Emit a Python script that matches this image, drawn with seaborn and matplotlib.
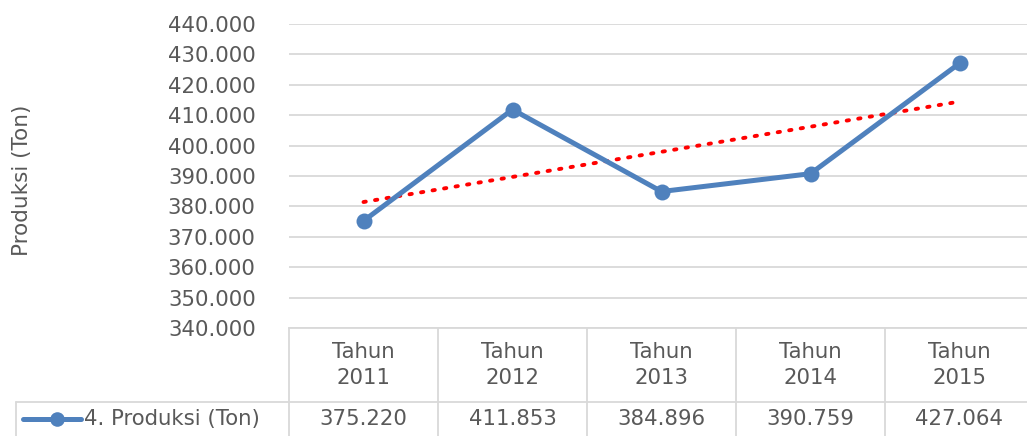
import matplotlib as mpl
import seaborn as sns
import pandas as pd
import numpy as np
from matplotlib.lines import Line2D
plt = mpl.pyplot

years = [2011, 2012, 2013, 2014, 2015]
year_labels = ['Tahun\n2011', 'Tahun\n2012', 'Tahun\n2013', 'Tahun\n2014', 'Tahun\n2015']
produksi = [375.220, 411.853, 384.896, 390.759, 427.064]
value_labels = ['375.220', '411.853', '384.896', '390.759', '427.064']
series_name = '4. Produksi (Ton)'
y_ticks = [340, 350, 360, 370, 380, 390, 400, 410, 420, 430, 440]

data = pd.DataFrame({'Tahun': years, 'Produksi': produksi})

sns.set_style('white')
mpl.rcParams['font.family'] = ['DejaVu Sans']
TXT = '#595959'
GRID = '#d9d9d9'
BLUE = '#4f81bd'
FS = 15.3

W, H = 1027, 436
fig = plt.figure(figsize=(W / 100, H / 100), dpi=100)
# plot area in pixels: x 289..1034, y 24..328
ax = fig.add_axes([289 / W, 1 - 328 / H, 745 / W, 304 / H])

sns.regplot(x='Tahun', y='Produksi', data=data, ax=ax, scatter=False, ci=None,
            truncate=True,
            line_kws=dict(color='#ff0000', lw=2.8, ls=(0, (0.6, 2.4)),
                          dash_capstyle='round', zorder=3))
sns.lineplot(x='Tahun', y='Produksi', data=data, ax=ax, color=BLUE, lw=3.6,
             marker='o', markersize=11.5, markeredgewidth=0, zorder=4)

ax.set_xlim(years[0] - 0.5, years[-1] + 0.5)
ax.set_ylim(340, 440)
ax.set_yticks(y_ticks)
ax.set_yticklabels([f'{v}.000' for v in y_ticks], color=TXT, fontsize=FS)
ax.tick_params(axis='y', length=0, pad=24)
ax.set_xticks([])
ax.set_xlabel('')
ax.set_ylabel('')
ax.grid(axis='y', color=GRID, lw=1.3)
for s in ['top', 'right', 'left']:
    ax.spines[s].set_visible(False)
ax.spines['bottom'].set_color(GRID)
ax.spines['bottom'].set_linewidth(1.3)

fig.text(22 / W, 1 - 180 / H, 'Produksi (Ton)', rotation=90, ha='center', va='center',
         color=TXT, fontsize=15.5)

# data table below the plot
tr = ax.get_xaxis_transform()
row1 = -(402 - 328) / 304
row_bot = -(440 - 328) / 304
for i, yr in enumerate(years):
    ax.text(yr, row1 / 2, year_labels[i], transform=tr, ha='center', va='center',
            color=TXT, fontsize=FS, linespacing=1.35)
    ax.text(yr, (row1 + row_bot) / 2 + 0.005, value_labels[i], transform=tr, ha='center',
            va='center', color=TXT, fontsize=FS)
for xb in [years[0] - 0.5] + [y + 0.5 for y in years]:
    ax.add_line(Line2D([xb, xb], [0, row_bot], transform=tr, color=GRID, lw=1.3,
                       clip_on=False))
# horizontal row separator and legend cell
fig.add_artist(Line2D([16 / W, 1], [1 - 402 / H] * 2, color=GRID, lw=1.3))
fig.add_artist(Line2D([16 / W, 16 / W], [1 - 402 / H, 0], color=GRID, lw=1.3))
fig.add_artist(Line2D([23 / W, 81 / W], [1 - 419 / H] * 2, color=BLUE, lw=3.6))
fig.add_artist(Line2D([57 / W], [1 - 419 / H], color=BLUE, marker='o', markersize=10.5,
                      markeredgewidth=0))
fig.text(84 / W, 1 - 419 / H, series_name, ha='left', va='center', color=TXT,
         fontsize=FS)

plt.savefig('out.png', dpi=100)
